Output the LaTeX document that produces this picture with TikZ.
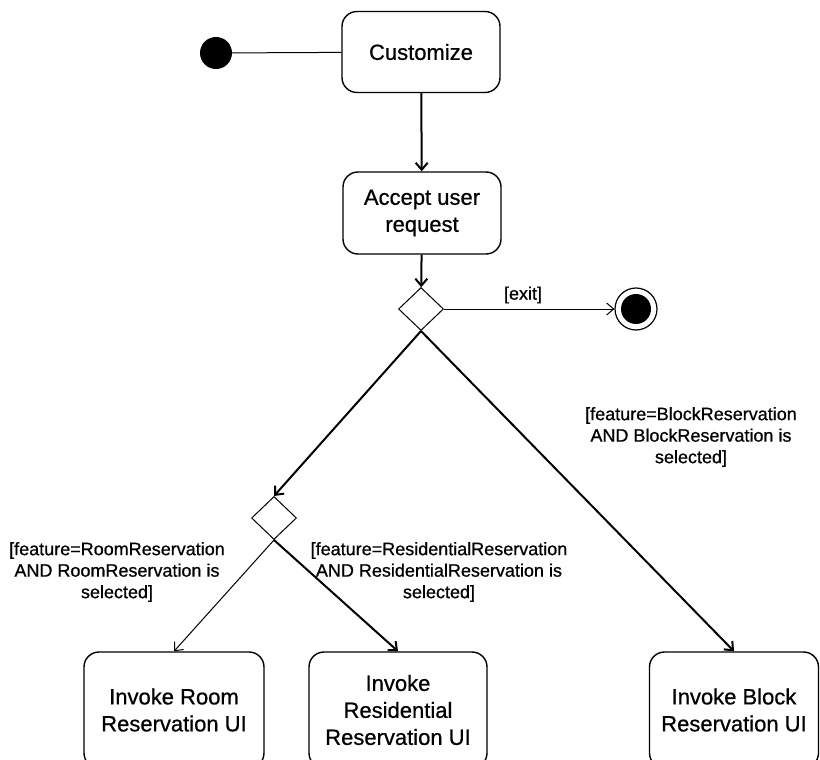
\documentclass[tikz,border=0pt]{standalone}
\usepackage{fontspec}
\setmainfont{Liberation Sans}
\newfontfamily\heavysans[FakeBold=0.7]{Liberation Sans}
\usetikzlibrary{arrows.meta,shapes.geometric}
\begin{document}
\begin{tikzpicture}[x=1pt,y=-1pt,
  action/.style={draw, rounded corners=15pt, line width=1.4pt, align=center,
    font=\heavysans\fontsize{22}{27}\selectfont, inner sep=0pt},
  choice/.style={draw, diamond, minimum width=45pt, minimum height=43pt,
    inner sep=0pt, line width=1pt},
  guard/.style={align=center, font=\heavysans\fontsize{18}{21.5}\selectfont, inner sep=0pt},
  flow/.style={line width=2pt, -{Straight Barb[length=7pt,width=12pt]}},
  thinflow/.style={line width=1pt, -{Straight Barb[length=7pt,width=12pt]}}]
\useasboundingbox (0,0) rectangle (820,760);
\clip (0,0) rectangle (820,760);

% start and end points
\node[circle, fill=black, minimum size=32pt, inner sep=0pt] (start) at (216,53) {};
\node[circle, draw, line width=1.2pt, minimum size=42pt, inner sep=0pt] (stop) at (636,309) {};
\node[circle, fill=black, minimum size=30pt, inner sep=0pt] (stopdot) at (stop) {};

% actions
\node[action, minimum width=158pt, minimum height=81pt] (cust) at (421,52) {Customize};
\node[action, minimum width=158pt, minimum height=82pt] (accept) at (422,213) {Accept user\\request};
\node[action, minimum width=180pt, minimum height=116pt] (room) at (174,710) {Invoke Room\\Reservation UI};
\node[action, minimum width=178pt, minimum height=116pt] (resi) at (398,710) {Invoke\\Residential\\Reservation UI};
\node[action, minimum width=169pt, minimum height=116pt] (block) at (734,710) {Invoke Block\\Reservation UI};

% decisions
\node[choice] (d1) at (421,309) {};
\node[choice] (d2) at (274,518) {};

% flows
\draw[line width=1pt] (start) -- (cust);
\draw[flow] (cust) -- (accept);
\draw[flow] (accept) -- (d1);
\draw[thinflow] (d1) -- (stop);
\draw[flow] (d1.south) -- (d2.north);
\draw[flow] (d1.south) -- (block.north);
\draw[thinflow] (d2.south) -- (room.north);
\draw[flow] (d2.south) -- (resi.north);

% guards
\node[guard] (gexit) at (523,295) {[exit]};
\node[guard] (groom) at (117,572) {[feature=RoomReservation\\AND RoomReservation is\\selected]};
\node[guard] (gresi) at (439,572) {[feature=ResidentialReservation\\AND ResidentialReservation is\\selected]};
\node[guard] (gblock) at (691,437) {[feature=BlockReservation\\AND BlockReservation is\\selected]};
\end{tikzpicture}
\end{document}
